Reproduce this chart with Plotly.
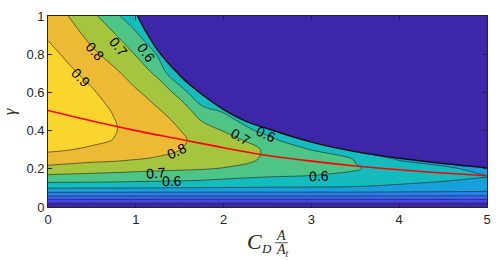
import plotly.graph_objects as go

# value carried past the cliff edge into the no-solution region
# (those cells are covered by the dark no-solution patch)
c = 0.48
f = 0.44

# ---- data ----
cd_ratio = [0, 0.25, 0.5, 0.75, 1.0, 1.25, 1.5, 1.75, 2.0, 2.5, 3.0, 3.5, 4.0, 4.5, 5.0]
gamma = [0, 0.02, 0.04, 0.06, 0.08, 0.10, 0.13, 0.16, 0.20, 0.25, 0.30, 0.35, 0.40,
         0.45, 0.50, 0.60, 0.70, 0.80, 0.90, 1.00]

# efficiency field, one row per gamma value
eff = [
    [0]*15,
    [0.098]*15,
    [0.198]*15,
    [.315, .315, .315, .315, .315, .314, .314, .314, .313, .313, .312, .312, .31, .308, .305],
    [.414, .414, .413, .413, .412, .412, .411, .411, .41, .41, .41, .41, .405, .40, .395],
    [.507, .506, .505, .504, .502, .50, .498, .497, .495, .49, .488, .485, .475, .465, .455],
    [.605, .602, .60, .598, .593, .59, .587, .58, .575, .57, .565, .555, .515, .495, .485],
    [.68, .673, .668, .662, .655, .65, .645, .64, .62, .603, .595, .585, .55, .53, .502],
    [.767, .757, .748, .738, .728, .72, .713, .705, .695, .655, .635, .605, .568, .525, .46],
    [.856, .838, .824, .818, .802, .79, .775, .755, .735, .69, .65, .597, .49, f, f],
    [.915, .902, .885, .87, .845, .825, .801, .775, .752, .69, .598, c, f, f, f],
    [.945, .93, .92, .898, .866, .838, .81, .78, .745, .64, c, c, f, f, f],
    [.97, .952, .934, .905, .873, .84, .802, .755, .695, .56, c, c, f, f, f],
    [.985, .962, .937, .903, .87, .828, .785, .699, .655, c, c, c, f, f, f],
    [.99, .963, .934, .895, .86, .81, .76, .654, .59, c, c, c, f, f, f],
    [.98, .95, .91, .86, .812, .76, .67, c, c, c, c, c, f, f, f],
    [.955, .915, .872, .82, .758, .68, c, c, c, c, c, c, f, f, f],
    [.925, .88, .82, .762, .695, .59, c, c, c, c, c, c, f, f, f],
    [.89, .84, .77, .71, .62, c, c, c, c, c, c, c, f, f, f],
    [.86, .795, .724, .633, .52, c, c, c, c, c, c, c, f, f, f],
]

# edge of the no-solution region
edge_x = [1.02, 1.1, 1.25, 1.5, 1.75, 2.0, 2.25, 2.5, 3.0, 3.5, 4.0, 4.5, 5.0]
edge_gamma = [1.0, 0.93, 0.82, 0.69, 0.59, 0.51, 0.45, 0.41, 0.34, 0.29, 0.255, 0.228, 0.205]

# optimum gamma (red line)
opt_x = [0, 0.5, 1.0, 1.5, 2.0, 2.5, 3.0, 3.5, 4.0, 4.5, 5.0]
opt_gamma = [0.505, 0.45, 0.40, 0.355, 0.31, 0.27, 0.24, 0.215, 0.195, 0.178, 0.164]

# contour labels
lab_text = ["0.9", "0.8", "0.8", "0.7", "0.7", "0.7", "0.6", "0.6", "0.6", "0.6"]
lab_x = [0.38, 0.53, 1.47, 0.81, 2.2, 1.23, 1.12, 2.48, 1.41, 3.09]
lab_y = [0.677, 0.815, 0.292, 0.84, 0.369, 0.18, 0.805, 0.38, 0.138, 0.164]
lab_angle = [45, 48, -25, 52, 30, -4, 55, 25, -2, -3]

x_ticks = [0, 1, 2, 3, 4, 5]
y_ticks = [0, 0.2, 0.4, 0.6, 0.8, 1.0]
X_RANGE = [0, 5]
Y_RANGE = [0, 1]

# ---- style ----
band_colors = [
    "rgb(62,38,168)", "rgb(70,70,230)", "rgb(55,102,245)", "rgb(38,130,234)",
    "rgb(24,160,218)", "rgb(22,187,190)", "rgb(78,197,135)", "rgb(166,197,62)",
    "rgb(236,186,52)", "rgb(249,213,45)",
]
colorscale = [[k / 9, col] for k, col in enumerate(band_colors)]
axis_col = "rgb(38,38,38)"
line_col = "rgb(30,30,30)"

fig = go.Figure()

fig.add_trace(go.Contour(
    x=cd_ratio, y=gamma, z=eff, colorscale=colorscale, showscale=False,
    autocontour=False,
    contours=dict(start=0.1, end=0.9, size=0.1, coloring="fill", showlines=False),
    line=dict(width=0, smoothing=1.0), hoverinfo="skip",
))
fig.add_trace(go.Contour(
    x=cd_ratio, y=gamma, z=eff, showscale=False, autocontour=False,
    contours=dict(start=0.1, end=0.9, size=0.1, coloring="none", showlines=True),
    line=dict(width=0.6, color=line_col, smoothing=1.0), hoverinfo="skip",
))

# dark no-solution region
fig.add_trace(go.Scatter(x=edge_x, y=[Y_RANGE[1]] * len(edge_x), mode="lines",
                         line=dict(width=0), hoverinfo="skip"))
fig.add_trace(go.Scatter(x=edge_x, y=edge_gamma, mode="lines", fill="tonexty",
                         fillcolor=band_colors[0],
                         line=dict(color="rgb(15,15,15)", width=1.4, shape="spline"),
                         hoverinfo="skip"))

fig.add_trace(go.Scatter(x=opt_x, y=opt_gamma, mode="lines",
                         line=dict(color="rgb(255,0,0)", width=1.6, shape="spline"),
                         hoverinfo="skip"))

for t, lx, ly, ang in zip(lab_text, lab_x, lab_y, lab_angle):
    fig.add_annotation(text=t, x=lx, y=ly, xref="x", yref="y", showarrow=False,
                       textangle=ang, xanchor="center", yanchor="middle",
                       font=dict(family="Liberation Sans", size=14, color="black"))

tickfont = dict(family="Liberation Sans", size=13, color=axis_col)
fig.update_xaxes(range=X_RANGE, tickvals=x_ticks, ticks="inside", ticklen=4, tickwidth=0.8,
                 tickcolor=axis_col, showline=True, linecolor=axis_col, linewidth=0.8,
                 mirror="ticks", showgrid=False, zeroline=False, tickfont=tickfont)
fig.update_yaxes(range=Y_RANGE, tickvals=y_ticks, ticks="inside", ticklen=4, tickwidth=0.8,
                 tickcolor=axis_col, showline=True, linecolor=axis_col, linewidth=0.8,
                 mirror="ticks", showgrid=False, zeroline=False, tickfont=tickfont)

serif = "Liberation Serif"
L, W, T, H = 48, 443, 12, 195
def px(xp):
    return (xp - L) / W
def py(yp):
    return (T + H - yp) / H

ann = [
    dict(text="<i>C</i>", x=px(256), y=py(242), size=22),
    dict(text="<i>D</i>", x=px(268), y=py(249), size=13),
    dict(text="<i>A</i>", x=px(283.5), y=py(236), size=14),
    dict(text="<i>A</i><sub><i>t</i></sub>", x=px(285), y=py(251), size=14),
]
for a in ann:
    fig.add_annotation(text=a["text"], x=a["x"], y=a["y"], xref="paper", yref="paper",
                       showarrow=False, xanchor="center", yanchor="middle",
                       font=dict(family=serif, size=a["size"], color=axis_col))
fig.add_shape(type="line", xref="paper", yref="paper", x0=px(277), x1=px(290),
              y0=py(243.5), y1=py(243.5), line=dict(color=axis_col, width=0.8))
fig.add_annotation(text="<i>γ</i>", x=px(9), y=py(109), xref="paper", yref="paper",
                   showarrow=False, textangle=-90, xanchor="center", yanchor="middle",
                   font=dict(family=serif, size=17, color=axis_col))

fig.update_layout(width=500, height=260, margin=dict(l=L, r=9, t=T, b=53),
                  paper_bgcolor="white", plot_bgcolor=band_colors[0], showlegend=False)

fig.write_html("out.html", config={"displayModeBar": False},
               post_script="document.body.style.margin='0px';"
                           "document.body.style.overflow='hidden';")
